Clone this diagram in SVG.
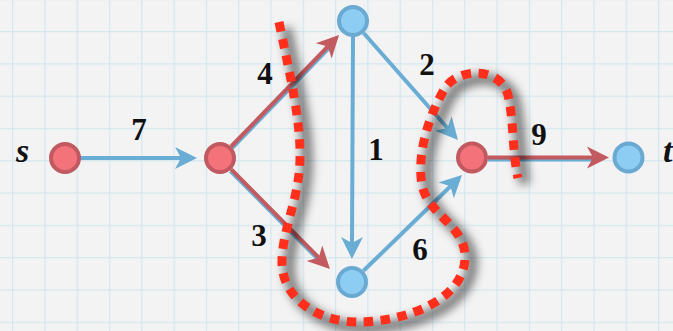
<svg xmlns="http://www.w3.org/2000/svg" width="673" height="331" viewBox="0 0 673 331">
<defs>
<pattern id="grid" x="12" y="31" width="32.3" height="32.3" patternUnits="userSpaceOnUse">
<path d="M0,0 V32.3 M0,0 H32.3" fill="none" stroke="#d3e7f0" stroke-width="2.5"/>
</pattern>
<marker id="ab" markerUnits="userSpaceOnUse" viewBox="-8 -12 26 24" refX="0" refY="0" markerWidth="26" markerHeight="24" orient="auto" overflow="visible">
<path d="M16,0 L-6,-11 L0,0 L-6,11 Z" fill="#6aadd4"/>
</marker>
<marker id="ar" markerUnits="userSpaceOnUse" viewBox="-8 -12 26 24" refX="0" refY="0" markerWidth="26" markerHeight="24" orient="auto" overflow="visible">
<path d="M16,0 L-6,-11 L0,0 L-6,11 Z" fill="#c25a5f"/>
</marker>
<filter id="blur" x="-20%" y="-20%" width="140%" height="140%">
<feGaussianBlur stdDeviation="5"/>
</filter>
<style>
.eb{fill:none;stroke:#6aadd4;stroke-width:4;marker-end:url(#ab)}
.er{fill:none;stroke:#c25a5f;stroke-width:4;marker-end:url(#ar)}
.nb{fill:#8dcdf3;stroke:#6aa9d2;stroke-width:4}
.nr{fill:#f47279;stroke:#c05a60;stroke-width:4}
.lbl{font-family:"Liberation Serif",serif;font-weight:bold;font-size:31px;fill:#111;text-anchor:middle}
.var{font-family:"Liberation Serif",serif;font-style:italic;font-weight:bold;font-size:34px;fill:#111}
.cut{fill:none;stroke:#ff2f1c;stroke-width:9;stroke-dasharray:9.5 7.5}
.cutsh{fill:none;stroke:#000;stroke-opacity:0.5;stroke-width:11;filter:url(#blur)}
</style>
<path id="cutpath" d="M279,22 C290,75 301,120 300,160 C299,200 282,230 282,262 C282,300 320,322 358,322 C405,322 465,300 465,257 C465,225 428,215 422,185 C416,150 432,110 445,88 C458,68 500,66 508,95 C514,120 512,150 518,178"/>
</defs>
<rect width="673" height="331" fill="#f3f3f3"/>
<rect width="673" height="331" fill="url(#grid)"/>
<g id="connectors">
<path class="eb" d="M80,158 L181,158"/>
<path d="M232.1,148 L328.9,48" fill="none" stroke="#6aadd4" stroke-width="4"/>
<path class="er" d="M231.1,146.5 L327.9,46.5"/>
<path d="M230.5,171 L318,259.2" fill="none" stroke="#6aadd4" stroke-width="4"/>
<path class="er" d="M231.3,169.4 L318.7,257.6"/>
<path class="eb" d="M353,37 L352,243"/>
<path class="eb" d="M363.6,33 L447.4,128"/>
<path class="eb" d="M363.5,270.8 L450.5,186.2"/>
<path d="M488,159.5 L594,159.5" fill="none" stroke="#6aadd4" stroke-width="4"/>
<path class="er" d="M488,157.5 L593,157.5"/>
</g>
<g id="cut">
<use href="#cutpath" class="cutsh" transform="translate(7,6)"/>
<use href="#cutpath" class="cut"/>
</g>
<g id="node-s"><circle class="nr" cx="65" cy="158" r="14"/><text class="var" x="16" y="162">s</text></g>
<g id="node-a"><circle class="nr" cx="220" cy="158" r="14"/></g>
<g id="node-top"><circle class="nb" cx="353" cy="21" r="14"/></g>
<g id="node-bottom"><circle class="nb" cx="352" cy="282" r="14"/></g>
<g id="node-mid"><circle class="nr" cx="472" cy="157.5" r="14"/></g>
<g id="node-t"><circle class="nb" cx="628.5" cy="157.5" r="14"/><text class="var" x="663" y="162">t</text></g>
<g id="labels">
<text class="lbl" x="139" y="140">7</text>
<text class="lbl" x="265" y="84">4</text>
<text class="lbl" x="259" y="246">3</text>
<text class="lbl" x="376" y="160">1</text>
<text class="lbl" x="427" y="75">2</text>
<text class="lbl" x="420" y="260">6</text>
<text class="lbl" x="539" y="145">9</text>
</g>
</svg>
